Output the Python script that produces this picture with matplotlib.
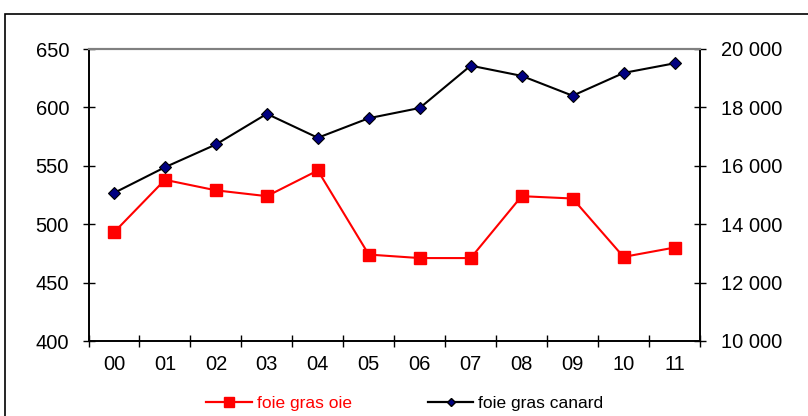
import numpy as np
import matplotlib
matplotlib.use("Agg")
import matplotlib.pyplot as plt
from matplotlib.patches import Rectangle
from matplotlib.lines import Line2D

plt.rcParams['font.family'] = ['Liberation Sans', 'DejaVu Sans']

# data
years = ['00', '01', '02', '03', '04', '05', '06', '07', '08', '09', '10', '11']
oie = [493, 538, 529, 524, 546, 474, 471, 471, 524, 522, 472, 480]
canard = [15070, 15950, 16730, 17780, 16960, 17630, 17980, 19430, 19080, 18400, 19180, 19510]
left_ticks = [400, 450, 500, 550, 600, 650]
right_ticks = [10000, 12000, 14000, 16000, 18000, 20000]
right_labels = ['10 000', '12 000', '14 000', '16 000', '18 000', '20 000']

fig = plt.figure(figsize=(8.08, 4.16), dpi=100)

# outer frame (runs off the right and bottom edges)
fig.patches.append(Rectangle((5 / 808, -0.2), 1.2, 0.2 + (1 - 14 / 416),
                             transform=fig.transFigure, fill=False,
                             edgecolor='black', linewidth=1.2))

ax = fig.add_axes([88.5 / 808, 1 - 341 / 416, 611.5 / 808, 292 / 416])
ax2 = ax.twinx()

x = np.arange(len(years))

ax.plot(x, oie, color='#ff0000', linewidth=1.5, marker='s', markersize=8.5,
        markerfacecolor='#ff0000', markeredgecolor='#ff0000', zorder=3)
ax2.plot(x, canard, color='black', linewidth=1.5, marker='D', markersize=6,
         markerfacecolor='#000080', markeredgecolor='black', markeredgewidth=0.8)

ax.set_xlim(-0.5, len(years) - 0.5)
ax.set_ylim(400, 650)
ax2.set_ylim(10000, 20000)

ax.set_yticks(left_ticks)
ax.set_yticklabels([str(v) for v in left_ticks])
ax2.set_yticks(right_ticks)
ax2.set_yticklabels(right_labels)

ax.set_xticks(x)
ax.set_xticklabels(years)
ax.set_xticks(np.arange(-0.5, len(years)), minor=True)
ax.tick_params(axis='x', which='major', length=0, pad=10, labelsize=14.5)
ax.tick_params(axis='x', which='minor', direction='inout', length=8, width=1)
ax.tick_params(axis='y', direction='inout', length=8, width=1, pad=10, labelsize=14.5)
ax2.tick_params(axis='y', direction='inout', length=8, width=1, pad=11, labelsize=14.5)

for a in (ax, ax2):
    a.spines['top'].set_color('#808080')
    a.spines['top'].set_linewidth(1.5)
    for s in ('left', 'right', 'bottom'):
        a.spines[s].set_linewidth(1.2)
        a.spines[s].set_color('black')

handles = [
    Line2D([], [], color='#ff0000', linewidth=1.6, marker='s', markersize=6.5,
           markerfacecolor='#ff0000', markeredgecolor='#ff0000'),
    Line2D([], [], color='black', linewidth=1.6, marker='D', markersize=4.5,
           markerfacecolor='#000080', markeredgecolor='black'),
]
leg = fig.legend(handles, ['foie gras oie', 'foie gras canard'], loc='center',
                 bbox_to_anchor=(405 / 808, 1 - 403 / 416), ncol=2, frameon=False,
                 fontsize=12.5, handlelength=2.6, handletextpad=0.3, columnspacing=4.4,
                 borderpad=0, borderaxespad=0)
leg.get_texts()[0].set_color('#ff0000')

fig.savefig('out.png', dpi=100)
